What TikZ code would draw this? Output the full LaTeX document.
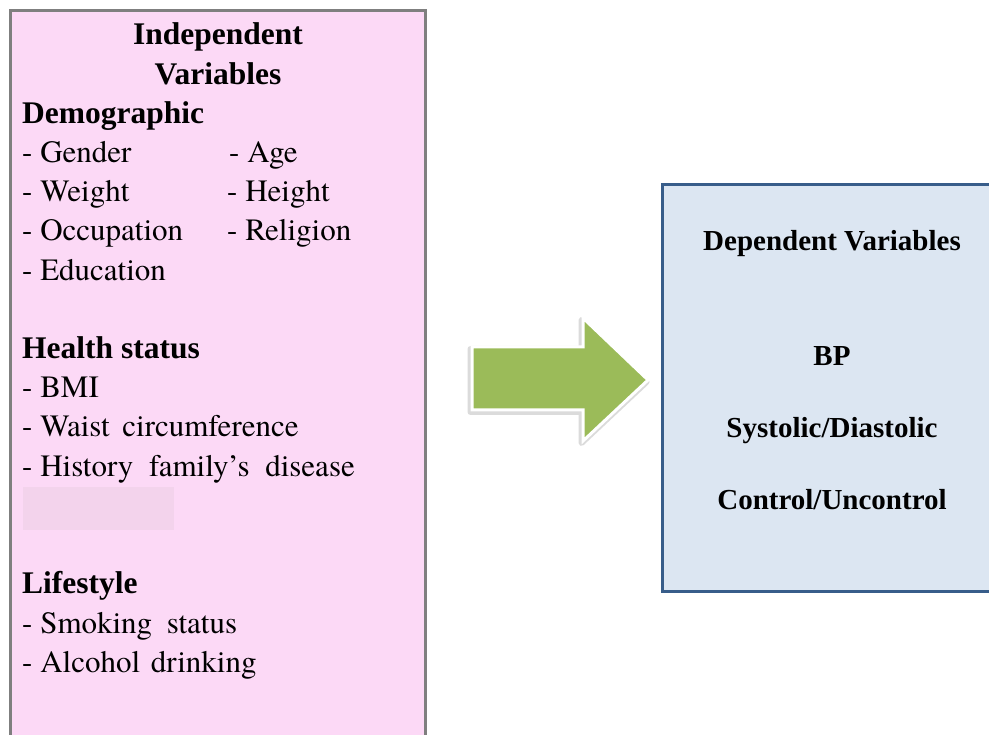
\documentclass[tikz,border=0pt]{standalone}
\usepackage{fontspec}
\setmainfont{TeX Gyre Termes}[BoldFont={Liberation Serif Bold}]
\definecolor{pinkfill}{HTML}{FCD9F6}
\definecolor{boxgray}{HTML}{7F7F7F}
\definecolor{bluefill}{HTML}{DCE6F2}
\definecolor{boxblue}{HTML}{385D8A}
\definecolor{arrowgreen}{HTML}{9BBB59}
\definecolor{faintpink}{HTML}{F3D3EC}
\begin{document}
\begin{tikzpicture}[x=1pt,y=-1pt,
  lt/.style={anchor=base west, inner sep=0pt, font=\fontsize{31}{39}\selectfont},
  lb/.style={anchor=base west, inner sep=0pt, font=\fontsize{31.5}{39}\selectfont\bfseries},
  lh/.style={anchor=base, inner sep=0pt, font=\fontsize{31.5}{39}\selectfont\bfseries},
  rt/.style={anchor=base, inner sep=0pt, font=\fontsize{29}{35}\selectfont\bfseries},
  indepbox/.style={draw=boxgray, line width=3pt, fill=pinkfill},
  depbox/.style={draw=boxblue, line width=3pt, fill=bluefill},
  arrowbody/.style={fill=arrowgreen, draw=white, line width=3pt, line join=miter},
  arrowshadow/.style={fill=black!14, draw=black!14, line width=6pt, line join=round}]
\useasboundingbox (0,0) rectangle (989,735);
\clip (0,0) rectangle (989,735);
% left box
\draw[indepbox] (10,11) rectangle (425.5,760);
\fill[faintpink] (23,487) rectangle (174,530);
\node[lh] (t1) at (218,45) {Independent};
\node[lh] (t2) at (218,84.2) {Variables};
\node[lb] (demo) at (22,123.4) {Demographic};
\node[lt] (gender) at (22,162.6) {- Gender};
\node[lt] (age) at (229,162.6) {- Age};
\node[lt] (weight) at (22,201.8) {- Weight};
\node[lt] (height) at (227,201.8) {- Height};
\node[lt] (occ) at (22,241) {- Occupation};
\node[lt] (rel) at (227,241) {- Religion};
\node[lt] (edu) at (22,280.2) {- Education};
\node[lb] (health) at (22,358.6) {Health status};
\node[lt] (bmi) at (22,397.8) {- BMI};
\node[lt] (waist) at (22,437) {- Waist\hspace{5pt} circumference};
\node[lt] (hist) at (22,476.2) {- History\hspace{8pt} family’s\hspace{8pt} disease};
\node[lb] (life) at (22,593.8) {Lifestyle};
\node[lt] (smoke) at (22,633) {- Smoking\hspace{7pt} status};
\node[lt] (alc) at (22,672.2) {- Alcohol\hspace{3pt} drinking};
% right box
\draw[depbox] (662.7,184.7) rectangle (1000,591);
\node[rt] (dv) at (832,251) {Dependent Variables};
\node[rt] (bp) at (832,366) {BP};
\node[rt] (sd) at (832,438) {Systolic/Diastolic};
\node[rt] (cu) at (832,509) {Control/Uncontrol};
% arrow
\begin{scope}[shift={(-1.5,2)}]
\path[arrowshadow] (472,347) -- (583,347) -- (583,318) -- (648,380) -- (583,441) -- (583,410) -- (472,410) -- cycle;
\end{scope}
\path[arrowbody] (472,347) -- (583,347) -- (583,318) -- (648,380) -- (583,441) -- (583,410) -- (472,410) -- cycle;
\end{tikzpicture}
\end{document}
